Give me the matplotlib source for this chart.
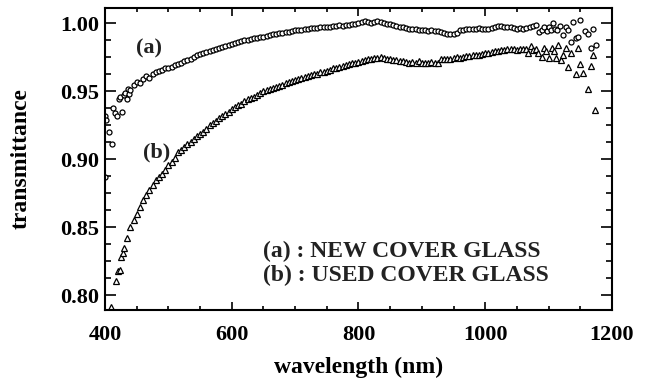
import numpy as np
import matplotlib
matplotlib.use('Agg')
import matplotlib.pyplot as plt
from matplotlib.ticker import MultipleLocator

# (a) new cover glass - noisy start, smooth body, scattered tail
a_head_wl = [400, 400, 402, 406, 411, 413, 416, 419, 422, 424, 427, 430, 432, 434, 436, 438]
a_head_tr = [0.932, 0.887, 0.929, 0.920, 0.911, 0.938, 0.934, 0.932, 0.944, 0.946,
             0.935, 0.947, 0.949, 0.944, 0.952, 0.948]
a_body_wl = np.arange(440, 1085, 5)
a_body_tr = [0.951, 0.955, 0.957, 0.956, 0.959, 0.961, 0.960, 0.963, 0.964, 0.965,
             0.966, 0.967, 0.9675, 0.968, 0.9695, 0.970, 0.971, 0.972, 0.973, 0.974,
             0.9755, 0.9765, 0.9775, 0.978, 0.979, 0.9795, 0.9805, 0.981, 0.982, 0.9825,
             0.983, 0.9838, 0.985, 0.9855, 0.986, 0.9868, 0.9875, 0.988, 0.9888, 0.989,
             0.9895, 0.990, 0.9903, 0.991, 0.9912, 0.992, 0.9925, 0.993, 0.9932, 0.9938,
             0.994, 0.9942, 0.9948, 0.995, 0.9955, 0.9957, 0.996, 0.9963, 0.9965, 0.9968,
             0.997, 0.9972, 0.9970, 0.9975, 0.9978, 0.998, 0.9985, 0.998, 0.9988, 0.999,
             0.9995, 0.9998, 1.0005, 1.0012, 1.0016, 1.001, 1.0006, 1.0012, 1.0014, 1.001,
             1.0006, 0.9998, 0.9993, 0.9985, 0.998, 0.997, 0.9975, 0.9966, 0.996, 0.9956,
             0.9962, 0.9955, 0.995, 0.9952, 0.9946, 0.995, 0.9945, 0.9942, 0.994, 0.993,
             0.9922, 0.992, 0.9922, 0.993, 0.995, 0.9955, 0.9958, 0.996, 0.9962, 0.9958,
             0.9965, 0.996, 0.9962, 0.9958, 0.9965, 0.997, 0.998, 0.9978, 0.997, 0.9975,
             0.9972, 0.9965, 0.996, 0.9968, 0.9962, 0.9965, 0.997, 0.998, 0.9985]
a_tail_wl = [1085, 1089, 1093, 1097, 1100, 1104, 1107, 1110, 1113, 1118, 1123, 1128,
             1131, 1136, 1139, 1143, 1147, 1150, 1157, 1162, 1167, 1170, 1175]
a_tail_tr = [0.994, 0.9955, 0.997, 0.9945, 0.9975, 0.995, 1.000, 0.996, 0.995, 0.998,
             0.9914, 0.9975, 0.995, 0.9865, 1.0007, 0.9894, 0.990, 1.0024, 0.9943, 0.992,
             0.9816, 0.9958, 0.984]

# (b) used cover glass
b_head_wl = [410, 417, 420, 423, 426, 428]
b_head_tr = [0.791, 0.810, 0.818, 0.8185, 0.828, 0.831]
b_body_wl = np.arange(430, 1070, 5)
b_body_tr = [0.8345, 0.842, 0.850, 0.855, 0.860, 0.865, 0.870, 0.8735, 0.877, 0.881,
             0.8845, 0.887, 0.889, 0.892, 0.8955, 0.898, 0.901, 0.905, 0.907, 0.909,
             0.911, 0.913, 0.915, 0.917, 0.9185, 0.920, 0.9225, 0.925, 0.927, 0.9285,
             0.930, 0.932, 0.9335, 0.935, 0.9372, 0.9385, 0.940, 0.941, 0.9425, 0.944,
             0.945, 0.946, 0.9475, 0.9485, 0.950, 0.951, 0.952, 0.9525, 0.9535, 0.954,
             0.955, 0.956, 0.9565, 0.9575, 0.958, 0.959, 0.9597, 0.9605, 0.961, 0.962,
             0.9625, 0.963, 0.964, 0.9645, 0.965, 0.966, 0.967, 0.9675, 0.968, 0.969,
             0.9695, 0.970, 0.9705, 0.971, 0.9717, 0.9725, 0.9732, 0.9735, 0.974, 0.9742,
             0.9745, 0.975, 0.9748, 0.974, 0.9735, 0.973, 0.9728, 0.972, 0.9725, 0.9718,
             0.971, 0.9715, 0.9705, 0.972, 0.971, 0.9712, 0.9705, 0.9715, 0.971, 0.9712,
             0.9735, 0.974, 0.9738, 0.974, 0.9745, 0.975, 0.9748, 0.9755, 0.976, 0.9758,
             0.9765, 0.977, 0.9768, 0.9775, 0.978, 0.9785, 0.979, 0.9795, 0.980, 0.9805,
             0.9802, 0.981, 0.9808, 0.981, 0.9805, 0.981, 0.9812, 0.9808]
b_tail_wl = [1068, 1072, 1076, 1080, 1084, 1089, 1092, 1096, 1101, 1105, 1108, 1111,
             1115, 1119, 1123, 1127, 1131, 1136, 1143, 1147, 1150, 1154, 1162, 1167,
             1170, 1174]
b_tail_tr = [0.978, 0.9835, 0.9803, 0.981, 0.9785, 0.9754, 0.9816, 0.980, 0.9747, 0.9816,
             0.980, 0.9742, 0.984, 0.973, 0.9767, 0.9816, 0.968, 0.978, 0.9624, 0.9816,
             0.9698, 0.9632, 0.9516, 0.9688, 0.977, 0.936]

a_wl = np.concatenate([a_head_wl, a_body_wl, a_tail_wl])
a_tr = np.concatenate([a_head_tr, a_body_tr, a_tail_tr])
b_wl = np.concatenate([b_head_wl, b_body_wl, b_tail_wl])
b_tr = np.concatenate([b_head_tr, b_body_tr, b_tail_tr])

plt.rcParams['font.family'] = ['Liberation Serif', 'DejaVu Serif']
plt.rcParams['font.weight'] = 'bold'

fig = plt.figure(figsize=(6.51, 3.83), dpi=100)
ax = fig.add_axes([0.1613, 0.1906, 0.7787, 0.7884])

ax.plot(a_wl, a_tr, linestyle='none', marker='o', markersize=3.6,
        markerfacecolor='white', markeredgecolor='black', markeredgewidth=0.9)
ax.plot(b_wl, b_tr, linestyle='none', marker='^', markersize=3.8,
        markerfacecolor='white', markeredgecolor='black', markeredgewidth=0.9)

ax.set_xlim(400, 1200)
ax.set_ylim(0.789, 1.0113)
ax.xaxis.set_major_locator(MultipleLocator(200))
ax.xaxis.set_minor_locator(MultipleLocator(50))
ax.yaxis.set_major_locator(MultipleLocator(0.05))
ax.yaxis.set_minor_locator(MultipleLocator(0.0125))
ax.yaxis.set_major_formatter(plt.FormatStrFormatter('%.2f'))

ax.tick_params(which='both', direction='in', top=True, right=True, width=1.2, labelsize=16)
ax.tick_params(axis='x', which='major', length=5.5, pad=11)
ax.tick_params(axis='x', which='minor', length=3)
ax.tick_params(axis='y', which='major', length=8, pad=4)
ax.tick_params(axis='y', which='minor', length=4)
for s in ax.spines.values():
    s.set_linewidth(1.5)

ax.set_xlabel('wavelength (nm)', fontsize=17, fontweight='bold', labelpad=8)
ax.set_ylabel('transmittance', fontsize=17, fontweight='bold', labelpad=21)

ax.text(469, 0.9818, '(a)', fontsize=16, fontweight='bold', color='#222222', ha='center', va='center')
ax.text(482, 0.905, '(b)', fontsize=16, fontweight='bold', color='#222222', ha='center', va='center')
ax.text(649, 0.8323, '(a) : NEW COVER GLASS', fontsize=17, fontweight='bold', color='#222222', va='center')
ax.text(649, 0.8147, '(b) : USED COVER GLASS', fontsize=17, fontweight='bold', color='#222222', va='center')

fig.savefig('out.png', dpi=100)
